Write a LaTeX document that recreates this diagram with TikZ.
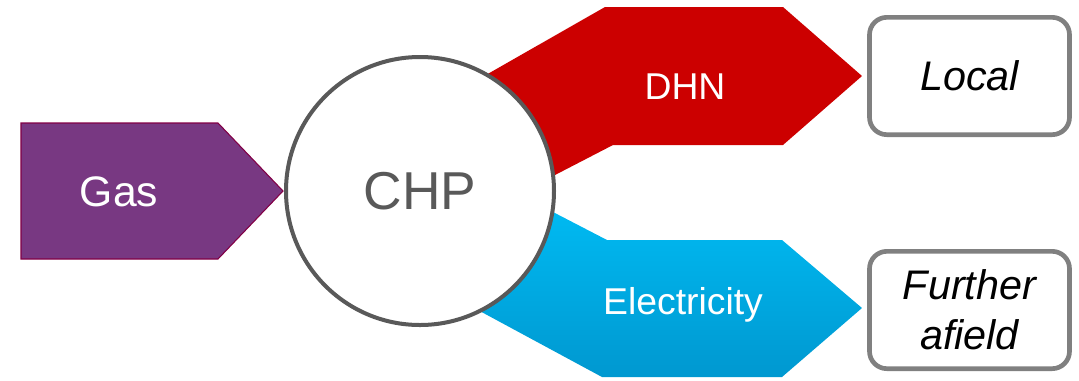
\documentclass[tikz,border=0pt]{standalone}
\usepackage{fontspec}
\setmainfont{Liberation Sans}
\usetikzlibrary{positioning}
\definecolor{gaspurple}{RGB}{120,56,130}
\definecolor{gasedge}{RGB}{130,0,70}
\definecolor{dhnred}{RGB}{204,0,0}
\definecolor{electop}{RGB}{0,194,250}
\definecolor{elecbot}{RGB}{0,152,208}
\definecolor{chpgray}{RGB}{89,89,89}
\definecolor{boxgray}{RGB}{128,128,128}

\begin{document}
\begin{tikzpicture}[x=0.75pt, y=-0.75pt,
    flowtext/.style={text=white, font=\fontsize{28}{34}\selectfont},
    outbox/.style={draw=boxgray, line width=3.5pt, rounded corners=13pt, fill=white,
        minimum width=150pt, minimum height=88pt, align=center,
        font=\fontsize{31}{37.5}\selectfont\itshape}]
    % Fix the page size
    \useasboundingbox (0,0) rectangle (1079,380);

    % Draw the input arrow
    \draw[fill=gaspurple, draw=gasedge, thick] (21,123) -- (218,123) -- (283,191) -- (218,259) -- (21,259) -- cycle;
    \node[flowtext, font=\fontsize{32}{38}\selectfont] (gas) at (119,192) {Gas};

    % Draw the two output arrows (left ends hidden under the circle)
    \fill[dhnred] (400,124) -- (605,7) -- (783,7) -- (862,76) -- (783,145) -- (613,145) -- (470,219) -- cycle;
    \shade[top color=electop, bottom color=elecbot] (470,169) -- (607,240) -- (782,240) -- (862,308) -- (782,377) -- (602,377) -- (400,268) -- cycle;
    \node[flowtext] (dhn) at (685,87) {DHN};
    \node[flowtext] (elec) at (683,305) {Electricity};

    % Draw the plant
    \node[circle, draw=chpgray, line width=3pt, fill=white, inner sep=0pt, minimum size=201pt,
        text=chpgray, font=\fontsize{40}{48}\selectfont] (chp) at (420,191) {CHP};

    % Draw the destinations
    \node[outbox] (local) at (969.5,76) {Local};
    \node[outbox] (further) at (969.5,310) {Further\\afield};
\end{tikzpicture}
\end{document}
